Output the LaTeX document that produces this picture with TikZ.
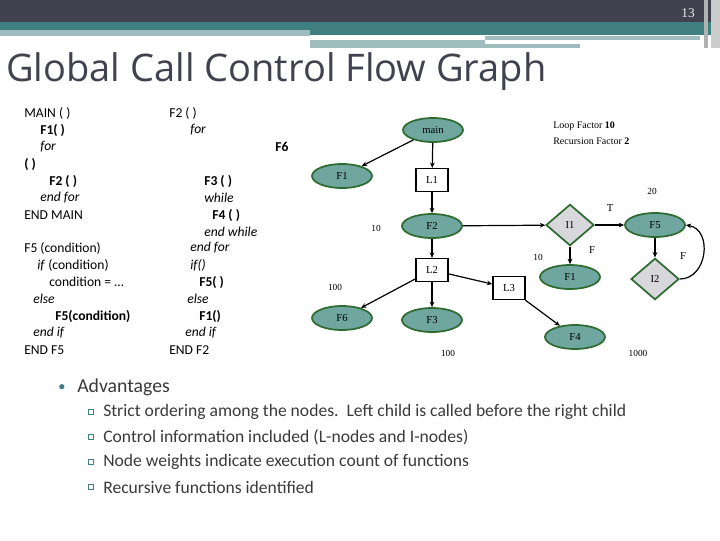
\documentclass[tikz,border=0pt]{standalone}
\usepackage{fontspec}
\setmainfont{Carlito}
\newfontfamily\serf{Liberation Serif}
\newfontfamily\ttl{Open Sans}
\usetikzlibrary{shapes.geometric,arrows.meta}
\definecolor{dark}{HTML}{41424F}
\definecolor{teal1}{HTML}{3F7F80}
\definecolor{tealL}{HTML}{9FBDBE}
\definecolor{nodeF}{HTML}{6FA6A0}
\definecolor{nodeB}{HTML}{2E6B30}
\definecolor{dia}{HTML}{D8D8DC}
\definecolor{txt}{HTML}{3A3A3A}
\begin{document}
\begin{tikzpicture}[x=0.75pt,y=-0.75pt,
 code/.style={anchor=west,inner sep=0,font=\fontsize{10.2}{10}\selectfont,text=black},
 fn/.style={ellipse,draw=nodeB,line width=1.3pt,fill=nodeF,minimum width=45pt,minimum height=18pt,inner sep=0,font=\serf\fontsize{8}{9}\selectfont},
 lp/.style={rectangle,draw=black,line width=1.2pt,fill=white,minimum width=24pt,minimum height=17pt,inner sep=0,font=\serf\fontsize{8}{9}\selectfont},
 cond/.style={diamond,draw=nodeB,line width=1.3pt,fill=dia,minimum width=36pt,minimum height=31pt,inner sep=0,font=\serf\fontsize{8}{9}\selectfont},
 lab/.style={font=\serf\fontsize{7}{8}\selectfont,inner sep=0},
 ar/.style={-{Stealth[length=4pt,width=3.5pt]},line width=0.9pt},
 sub/.style={anchor=west,inner sep=0,font=\fontsize{13.2}{14}\selectfont,text=txt}]
\useasboundingbox (0,0) rectangle (720,540);
\fill[white] (0,0) rectangle (720,540);
% header
\fill[dark] (0,0) rectangle (720,22);
\fill[teal1] (0,22) rectangle (720,35);
\fill[tealL] (0,30) rectangle (310,36);
\fill[tealL] (310,40) rectangle (485,44);
\fill[tealL] (485,36) rectangle (700,40);
\fill[tealL] (310,44) rectangle (580,48);
\fill[gray!60] (704,0) rectangle (708,48);
\fill[gray!40] (711,0) rectangle (720,48);
\node[text=white!85!gray,font=\serf\fontsize{10}{10}\selectfont] (pg) at (688,13) {13};
\node[anchor=west,inner sep=0,text=dark,font=\ttl\fontsize{28.5}{30}\selectfont] (title) at (6,72) {Global Call Control Flow Graph};
% code left
\node[code] (c1) at (24,113) {MAIN ( )};
\node[code] (c2) at (40,130) {\textbf{F1( )}};
\node[code] (c3) at (40,147) {\textit{for}};
\node[code] (c4) at (24,164) {\textbf{( )}};
\node[code] (c5) at (49,181) {\textbf{F2 ( )}};
\node[code] (c6) at (40,198) {\textit{end for}};
\node[code] (c7) at (24,215) {END MAIN};
\node[code] (d1) at (24,248) {F5 (condition)};
\node[code] (d2) at (37,265) {\textit{if} (condition)};
\node[code] (d3) at (49,282) {condition = \dots};
\node[code] (d4) at (33,299) {\textit{else}};
\node[code] (d5) at (55,316) {\textbf{F5(condition)}};
\node[code] (d6) at (33,333) {\textit{end if}};
\node[code] (d7) at (24,350) {END F5};
% code right
\node[code] (e1) at (169,113) {F2 ( )};
\node[code] (e2) at (190,130) {\textit{for}};
\node[code] (e0) at (275,147) {\textbf{F6}};
\node[code] (e3) at (204,181) {\textbf{F3 ( )}};
\node[code] (e4) at (204,198) {\textit{while}};
\node[code] (e5) at (212,215) {\textbf{F4 ( )}};
\node[code] (e6) at (204,232) {\textit{end while}};
\node[code] (e7) at (190,248) {\textit{end for}};
\node[code] (e8) at (190,265) {\textit{if()}};
\node[code] (e9) at (199,282) {\textbf{F5( )}};
\node[code] (e10) at (187,299) {\textit{else}};
\node[code] (e11) at (199,316) {\textbf{F1()}};
\node[code] (e12) at (185,333) {\textit{end if}};
\node[code] (e13) at (169,350) {END F2};
% graph
\node[fn] (main) at (433,130) {main};
\node[fn] (f1a) at (342,176) {F1};
\node[lp] (l1) at (432,180) {L1};
\node[fn] (f2) at (432,226) {F2};
\node[cond] (i1) at (570,225) {I1};
\node[fn] (f5) at (655,225) {F5};
\node[fn] (f1b) at (570,277) {F1};
\node[cond] (i2) at (655,279) {I2};
\node[lp] (l2) at (432,270) {L2};
\node[lp] (l3) at (509,288) {L3};
\node[fn] (f6) at (342,318) {F6};
\node[fn] (f3) at (432,320) {F3};
\node[fn] (f4) at (575,337) {F4};
\draw[ar] (main) -- (f1a);
\draw[ar] (main) -- (l1);
\draw[ar] (l1) -- (f2);
\draw[ar] (f2) -- (i1);
\draw[ar] (i1) -- (f5);
\draw[ar] (i1) -- (f1b);
\draw[ar] (f5) -- (i2);
\draw[ar] (i2.east) to[out=0,in=-10,looseness=1.3] (f5.east);
\draw[ar] (f2) -- (l2);
\draw[ar] (l2) -- (f6);
\draw[ar] (l2) -- (f3);
\draw[ar] (l2) -- (l3);
\draw[ar] (l3) -- (f4);
\node[lab] (n10a) at (376,228) {10};
\node[lab] (n10b) at (538,257) {10};
\node[lab] (n20) at (652,191) {20};
\node[lab,font=\serf\fontsize{8}{9}\selectfont] (nt) at (610,208) {T};
\node[lab,font=\serf\fontsize{8}{9}\selectfont] (nf1) at (592,250) {F};
\node[lab,font=\serf\fontsize{8}{9}\selectfont] (nf2) at (683,256) {F};
\node[lab] (n100a) at (335,287) {100};
\node[lab] (n100b) at (448,353) {100};
\node[lab] (n1000) at (638,353) {1000};
\node[anchor=west,inner sep=0,align=left,font=\serf\fontsize{7.5}{12}\selectfont] (lf) at (553,133) {Loop Factor \textbf{10}\\Recursion Factor \textbf{2}};
% bullets
\node[text=teal1,inner sep=0,font=\fontsize{10}{10}\selectfont] (b0) at (62,388) {$\bullet$};
\node[anchor=west,inner sep=0,text=txt,font=\fontsize{14.8}{15}\selectfont] (adv) at (77,387) {Advantages};
\foreach \y/\t [count=\i] in {412/{Strict ordering among the nodes.\ \ Left child is called before the right child},437/{Control information included (L-nodes and I-nodes)},462/{Node weights indicate execution count of functions},487/{Recursive functions identified}}{
 \node[draw=teal1,line width=0.5pt,minimum size=4pt,inner sep=0] (sq\i) at (91,\y) {};
 \node[sub] (s\i) at (103,\y) {\t};
}
\end{tikzpicture}
\end{document}
